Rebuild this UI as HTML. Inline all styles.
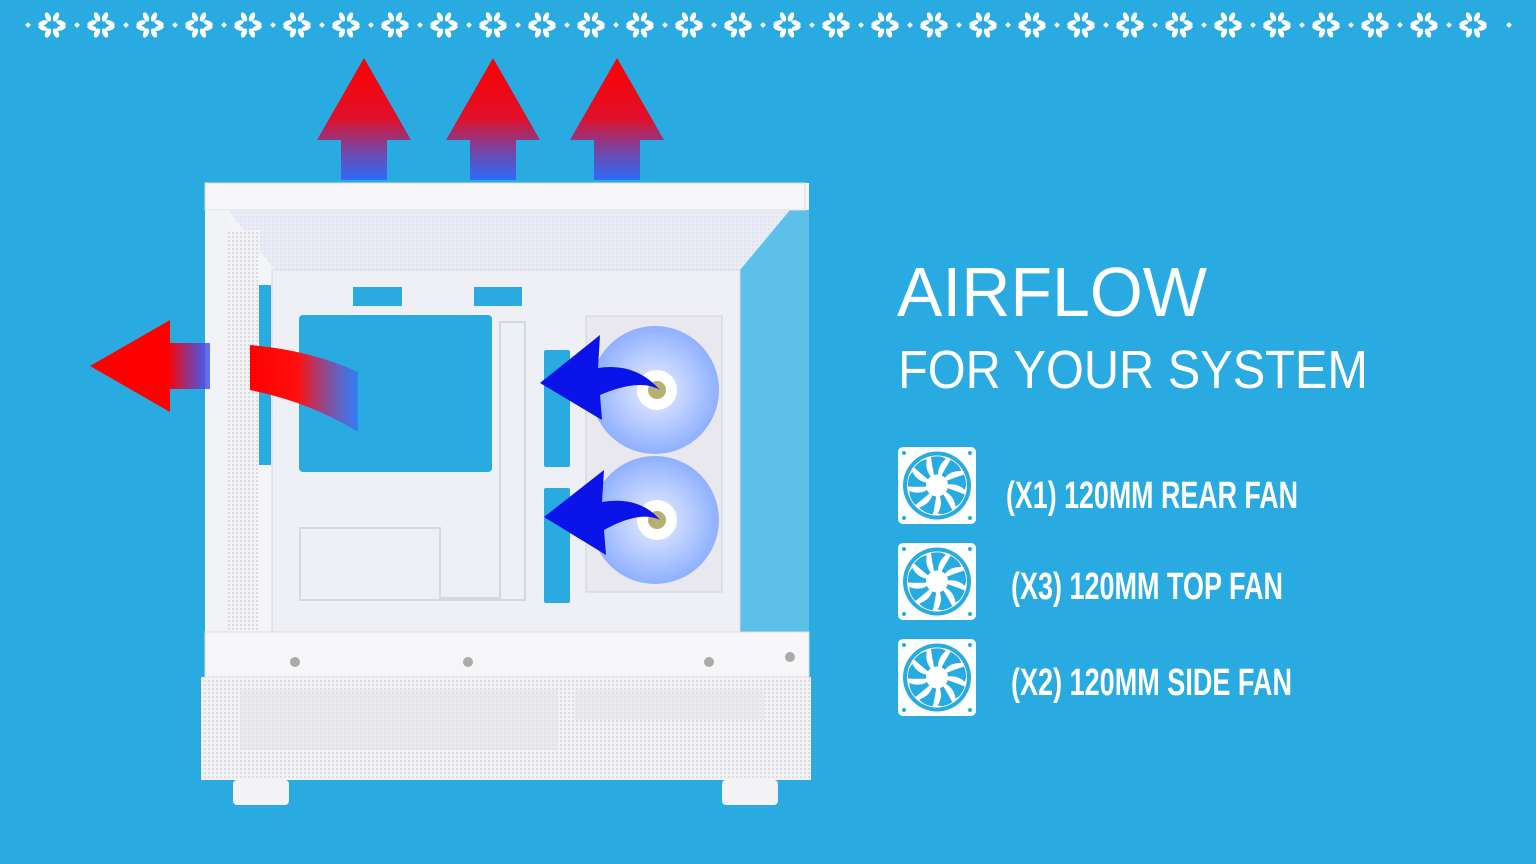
<!DOCTYPE html>
<html><head><meta charset="utf-8"><style>
html,body{margin:0;padding:0;background:#29abe2;}
svg{display:block}
.lbl{font-family:"Liberation Sans Narrow","Liberation Sans",sans-serif;font-weight:bold;fill:#fff}
</style></head><body>
<svg width="1536" height="864" viewBox="0 0 1536 864" xmlns="http://www.w3.org/2000/svg">
<defs>
<g id="fl">
<g fill="#fff">
<ellipse cx="-4" cy="-8" rx="2.6" ry="5" transform="rotate(-25 -4 -8)"/>
<ellipse cx="4" cy="-8" rx="2.6" ry="5" transform="rotate(25 4 -8)"/>
<ellipse cx="-4" cy="8" rx="2.6" ry="5" transform="rotate(25 -4 8)"/>
<ellipse cx="4" cy="8" rx="2.6" ry="5" transform="rotate(-25 4 8)"/>
<ellipse cx="-9" cy="-2" rx="5" ry="2.4" transform="rotate(-20 -9 -2)"/>
<ellipse cx="9" cy="-2" rx="5" ry="2.4" transform="rotate(20 9 -2)"/>
<ellipse cx="-9" cy="3" rx="5" ry="2.4" transform="rotate(20 -9 3)"/>
<ellipse cx="9" cy="3" rx="5" ry="2.4" transform="rotate(-20 9 3)"/>
<rect x="-26" y="-2" width="4" height="4" transform="rotate(45 -24 0)"/>
</g>
</g>
<linearGradient id="gup" x1="0" y1="0" x2="0" y2="1">
<stop offset="0" stop-color="#ff0000"/><stop offset="0.5" stop-color="#e0102a"/><stop offset="1" stop-color="#3050ff" stop-opacity="0.7"/>
</linearGradient>
<linearGradient id="gl" x1="0" y1="0" x2="1" y2="0">
<stop offset="0" stop-color="#ff0000"/><stop offset="0.65" stop-color="#ff0000"/><stop offset="1" stop-color="#3a50ff" stop-opacity="0.8"/>
</linearGradient>
<linearGradient id="gc" x1="0" y1="0" x2="1" y2="0">
<stop offset="0" stop-color="#ff0000"/><stop offset="0.45" stop-color="#ff1010"/><stop offset="1" stop-color="#3a60ff" stop-opacity="0.6"/>
</linearGradient>
<radialGradient id="fan" cx="0.5" cy="0.5" r="0.5">
<stop offset="0" stop-color="#ffffff"/><stop offset="0.3" stop-color="#cfdcff"/><stop offset="1" stop-color="#8fb0ff"/>
</radialGradient>
<pattern id="mesh" width="4" height="4" patternUnits="userSpaceOnUse"><rect width="4" height="4" fill="#f3f3f6"/><rect width="2" height="2" fill="#dcdce2"/></pattern>
<g id="icon">
<rect x="0" y="0" width="78" height="77" rx="5" fill="#fff"/>
<circle cx="39" cy="38.5" r="34" fill="#29abe2"/>
<circle cx="39" cy="38.5" r="30" fill="#fff"/>
<g fill="#29abe2">
<path d="M39 38.5 M33 10 Q43 8 48 12 Q40 18 40 28 L36 28 Q34 18 33 10 Z"/>
<path d="M33 10 Q43 8 48 12 Q40 18 40 28 L36 28 Q34 18 33 10 Z" transform="rotate(40 39 38.5)"/>
<path d="M33 10 Q43 8 48 12 Q40 18 40 28 L36 28 Q34 18 33 10 Z" transform="rotate(80 39 38.5)"/>
<path d="M33 10 Q43 8 48 12 Q40 18 40 28 L36 28 Q34 18 33 10 Z" transform="rotate(120 39 38.5)"/>
<path d="M33 10 Q43 8 48 12 Q40 18 40 28 L36 28 Q34 18 33 10 Z" transform="rotate(160 39 38.5)"/>
<path d="M33 10 Q43 8 48 12 Q40 18 40 28 L36 28 Q34 18 33 10 Z" transform="rotate(200 39 38.5)"/>
<path d="M33 10 Q43 8 48 12 Q40 18 40 28 L36 28 Q34 18 33 10 Z" transform="rotate(240 39 38.5)"/>
<path d="M33 10 Q43 8 48 12 Q40 18 40 28 L36 28 Q34 18 33 10 Z" transform="rotate(280 39 38.5)"/>
<path d="M33 10 Q43 8 48 12 Q40 18 40 28 L36 28 Q34 18 33 10 Z" transform="rotate(320 39 38.5)"/>
</g>
<circle cx="39" cy="38.5" r="11" fill="#fff"/>
<circle cx="6" cy="6" r="2" fill="#29abe2"/><circle cx="72" cy="6" r="2" fill="#29abe2"/>
<circle cx="6" cy="71" r="2" fill="#29abe2"/><circle cx="72" cy="71" r="2" fill="#29abe2"/>
</g>
</defs>
<rect width="1536" height="864" fill="#29abe2"/>
<g>
<use href="#fl" x="52" y="25"/><use href="#fl" x="101" y="25"/><use href="#fl" x="150" y="25"/><use href="#fl" x="199" y="25"/><use href="#fl" x="248" y="25"/><use href="#fl" x="297" y="25"/><use href="#fl" x="346" y="25"/><use href="#fl" x="395" y="25"/><use href="#fl" x="444" y="25"/><use href="#fl" x="493" y="25"/><use href="#fl" x="542" y="25"/><use href="#fl" x="591" y="25"/><use href="#fl" x="640" y="25"/><use href="#fl" x="689" y="25"/><use href="#fl" x="738" y="25"/><use href="#fl" x="787" y="25"/><use href="#fl" x="836" y="25"/><use href="#fl" x="885" y="25"/><use href="#fl" x="934" y="25"/><use href="#fl" x="983" y="25"/><use href="#fl" x="1032" y="25"/><use href="#fl" x="1081" y="25"/><use href="#fl" x="1130" y="25"/><use href="#fl" x="1179" y="25"/><use href="#fl" x="1228" y="25"/><use href="#fl" x="1277" y="25"/><use href="#fl" x="1326" y="25"/><use href="#fl" x="1375" y="25"/><use href="#fl" x="1424" y="25"/><use href="#fl" x="1473" y="25"/>
<rect x="1507" y="23" width="4" height="4" fill="#fff" transform="rotate(45 1509 25)"/>
</g>

<rect x="205" y="183" width="604" height="460" fill="#f4f5f8"/>
<rect x="740" y="210" width="69" height="432" fill="#5cc0e8"/>
<polygon points="228,210 790,210 740,270 275,270" fill="#e4e6f6"/>
<polygon points="228,210 790,210 740,270 275,270" fill="url(#mesh)" opacity="0.35"/>
<rect x="205" y="183" width="600" height="27" fill="#f6f6f8" stroke="#ddd"/>
<rect x="205" y="210" width="25" height="432" fill="#f2f3f6"/>
<rect x="228" y="230" width="32" height="400" fill="url(#mesh)"/>
<rect x="259" y="285" width="12" height="180" fill="#29abe2"/>
<rect x="272" y="270" width="468" height="362" fill="#eff0f6" stroke="#d8d9e2"/>
<rect x="299" y="315" width="193" height="157" rx="4" fill="#29abe2"/>
<rect x="353" y="287" width="49" height="19" fill="#29abe2"/>
<rect x="474" y="287" width="48" height="19" fill="#29abe2"/>
<rect x="544" y="350" width="26" height="117" rx="2" fill="#29abe2"/>
<rect x="544" y="488" width="26" height="115" rx="2" fill="#29abe2"/>
<path d="M300 528 H440 V598 H500 V322 H525 V600 H300 Z" fill="none" stroke="#d6d7e0" stroke-width="2"/>
<rect x="586" y="316" width="136" height="276" fill="#e8e8ee" stroke="#d0d0d8"/>
<circle cx="655" cy="390" r="64" fill="url(#fan)"/>
<circle cx="655" cy="520" r="64" fill="url(#fan)"/>
<circle cx="657" cy="390" r="20" fill="#fff"/><circle cx="657" cy="390" r="9" fill="#b7b070"/>
<circle cx="657" cy="520" r="20" fill="#fff"/><circle cx="657" cy="520" r="9" fill="#b7b070"/>
<rect x="205" y="632" width="604" height="45" fill="#f6f6f8" stroke="#ddd"/>
<circle cx="295" cy="662" r="5" fill="#aaa"/><circle cx="468" cy="662" r="5" fill="#aaa"/><circle cx="709" cy="662" r="5" fill="#aaa"/><circle cx="790" cy="657" r="5" fill="#aaa"/>
<rect x="201" y="677" width="610" height="103" fill="url(#mesh)"/>
<rect x="240" y="690" width="318" height="60" fill="#e4e4ea" opacity="0.6"/>
<rect x="575" y="690" width="190" height="30" fill="#e4e4ea" opacity="0.6"/>
<rect x="233" y="780" width="56" height="25" rx="4" fill="#f3f3f6"/>
<rect x="722" y="780" width="56" height="25" rx="4" fill="#f3f3f6"/>
<path d="M540 383 L600 335 L598 368 Q635 362 660 390 Q640 378 600 395 L602 420 Z" fill="#0a14e8"/>
<path d="M544 517 L604 470 L602 502 Q640 496 660 520 Q640 510 604 530 L606 555 Z" fill="#0a14e8"/>
<g fill="url(#gup)">
<path d="M364 58 L411 140 L387 140 L387 180 L341 180 L341 140 L317 140 Z"/>
<path d="M493 58 L540 140 L516 140 L516 180 L470 180 L470 140 L446 140 Z"/>
<path d="M617 58 L664 140 L640 140 L640 180 L594 180 L594 140 L570 140 Z"/>
</g>
<path d="M90 366 L170 320 L170 343 L210 343 L210 389 L170 389 L170 412 Z" fill="url(#gl)"/>
<path d="M250 345 Q310 350 358 372 L358 432 Q310 402 250 390 Z" fill="url(#gc)"/>
<text x="897" y="316" font-family="Liberation Sans, sans-serif" font-size="70" fill="#fff" textLength="310" lengthAdjust="spacingAndGlyphs">AIRFLOW</text>
<text x="898" y="388" font-family="Liberation Sans, sans-serif" font-size="54" fill="#fff" textLength="470" lengthAdjust="spacingAndGlyphs">FOR YOUR SYSTEM</text>
<use href="#icon" x="898" y="447"/>
<use href="#icon" x="898" y="543"/>
<use href="#icon" x="898" y="639"/>
<text class="lbl" x="1006" y="508" font-size="38" textLength="292" lengthAdjust="spacingAndGlyphs">(X1) 120MM REAR FAN</text>
<text class="lbl" x="1011" y="599" font-size="38" textLength="272" lengthAdjust="spacingAndGlyphs">(X3) 120MM TOP FAN</text>
<text class="lbl" x="1011" y="695" font-size="38" textLength="281" lengthAdjust="spacingAndGlyphs">(X2) 120MM SIDE FAN</text>
</svg>
</body></html>
